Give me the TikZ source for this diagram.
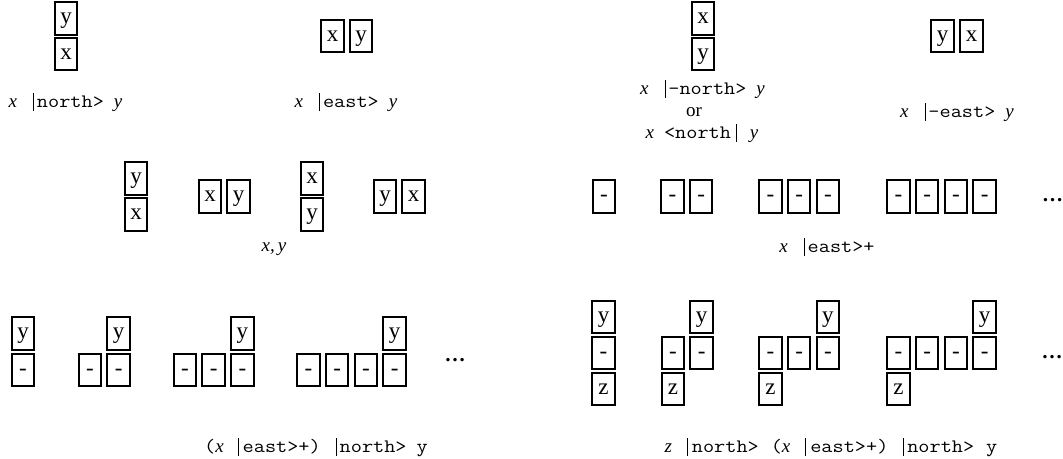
\documentclass[tikz,border=0pt]{standalone}
\usepackage{fontspec}
\setmainfont{Liberation Serif}
\setmonofont{Latin Modern Mono}[FakeStretch=1.14]
\newcommand\vbar{\rule[-4pt]{0.9pt}{18pt}}
\newcommand\ix[1]{{\rmfamily\itshape #1}}
\tikzset{
  bx/.style={draw, line width=2pt, minimum width=22.5pt, minimum height=32.5pt,
    inner sep=0pt, text height=15pt, text depth=5pt,
    font=\fontsize{23}{26}\selectfont},
  lbl/.style={anchor=base, inner sep=0pt, font=\fontsize{19}{22}\selectfont\ttfamily},
  dotsnode/.style={inner sep=0pt, font=\fontsize{21}{24}\selectfont\bfseries}
}
\begin{document}
\begin{tikzpicture}[x=1pt, y=-1pt]
\useasboundingbox (0,0) rectangle (1063,458);

% first row: the four two-box arrangements
\node[bx] (a1) at (66,18.5) {y};
\node[bx] (a2) at (66,54) {x};
\node[lbl] (la) at (65.5,107) {\ix{x}\hspace{16pt}\vbar\hspace{3pt}north>\hspace{10pt}\ix{y}};

\node[bx] (b1) at (332.5,36) {x};
\node[bx] (b2) at (361,36) {y};
\node[lbl] (lb) at (346,107) {\ix{x}\hspace{16pt}\vbar\hspace{3pt}east>\hspace{10pt}\ix{y}};

\node[bx] (c1) at (703,18.5) {x};
\node[bx] (c2) at (703,54) {y};
\node[lbl] (lc1) at (702.5,94) {\ix{x}\hspace{16pt}\vbar\hspace{3pt}-north>\hspace{10pt}\ix{y}};
\node[lbl, font=\fontsize{19}{22}\selectfont\rmfamily] (lc2) at (694,116) {or};
\node[lbl] (lc3) at (702,138) {\ix{x}\hspace{10pt}<north\hspace{5pt}\vbar\hspace{13pt}\ix{y}};

\node[bx] (d1) at (942.5,36) {y};
\node[bx] (d2) at (971.5,36) {x};
\node[lbl] (ld) at (957,117) {\ix{x}\hspace{16pt}\vbar\hspace{3pt}-east>\hspace{10pt}\ix{y}};

% second row, left: all four placements of x and y
\node[bx] (e1) at (136,178.5) {y};
\node[bx] (e2) at (136,214.5) {x};
\node[bx] (e3) at (210,196.5) {x};
\node[bx] (e4) at (238.5,196.5) {y};
\node[bx] (e5) at (312,178.5) {x};
\node[bx] (e6) at (312,214.5) {y};
\node[bx] (e7) at (385,196.5) {y};
\node[bx] (e8) at (413.5,196.5) {x};
\node[lbl, font=\fontsize{19}{22}\selectfont\rmfamily] (le) at (274,251) {\ix{x,\,y}};

% second row, right: repeated eastward placement
\node[bx] (f11) at (604,196.5) {-};
\foreach \i/\xx in {1/672.5,2/701.2}
  \node[bx] (f2\i) at (\xx,196.5) {-};
\foreach \i/\xx in {1/770.5,2/799.2,3/827.9}
  \node[bx] (f3\i) at (\xx,196.5) {-};
\foreach \i/\xx in {1/898.5,2/927.2,3/955.9,4/984.6}
  \node[bx] (f4\i) at (\xx,196.5) {-};
\node[dotsnode] (fd) at (1052.5,200) {\ldots};
\node[lbl] (lf) at (827,252) {\ix{x}\hspace{16pt}\vbar\hspace{3pt}east>+};

% third row, left: a row of boxes with y on top of the last one
\node[bx] (g11) at (23,370) {-};
\node[bx] (gy1) at (23,333.5) {y};
\foreach \i/\xx in {1/90,2/118.7}
  \node[bx] (g2\i) at (\xx,370) {-};
\node[bx] (gy2) at (118.7,333.5) {y};
\foreach \i/\xx in {1/185,2/213.7,3/242.4}
  \node[bx] (g3\i) at (\xx,370) {-};
\node[bx] (gy3) at (242.4,333.5) {y};
\foreach \i/\xx in {1/308.5,2/337.2,3/365.9,4/394.6}
  \node[bx] (g4\i) at (\xx,370) {-};
\node[bx] (gy4) at (394.6,333.5) {y};
\node[dotsnode] (gd) at (455,360) {\ldots};
\node[lbl] (lg) at (316,452) {(\ix{x}\hspace{14pt}\vbar\hspace{4pt}east>+)\hspace{15pt}\vbar\hspace{3pt}north>\hspace{10pt}y};

% third row, right: z below the first box, y above the last one
\node[bx] (h11) at (603.5,353) {-};
\node[bx] (hy1) at (603.5,317) {y};
\node[bx] (hz1) at (603.5,389) {z};
\foreach \i/\xx in {1/673,2/701.7}
  \node[bx] (h2\i) at (\xx,353) {-};
\node[bx] (hy2) at (701.7,317) {y};
\node[bx] (hz2) at (673,389) {z};
\foreach \i/\xx in {1/770.5,2/799.2,3/827.9}
  \node[bx] (h3\i) at (\xx,353) {-};
\node[bx] (hy3) at (827.9,317) {y};
\node[bx] (hz3) at (770.5,389) {z};
\foreach \i/\xx in {1/898.5,2/927.2,3/955.9,4/984.6}
  \node[bx] (h4\i) at (\xx,353) {-};
\node[bx] (hy4) at (984.6,317) {y};
\node[bx] (hz4) at (898.5,389) {z};
\node[dotsnode] (hd) at (1052,357) {\ldots};
\node[lbl] (lh) at (831,452) {\ix{z}\hspace{15pt}\vbar\hspace{4pt}north>\hspace{12pt}(\ix{x}\hspace{15pt}\vbar\hspace{4pt}east>+)\hspace{15pt}\vbar\hspace{3pt}north>\hspace{12pt}y};
\end{tikzpicture}
\end{document}
